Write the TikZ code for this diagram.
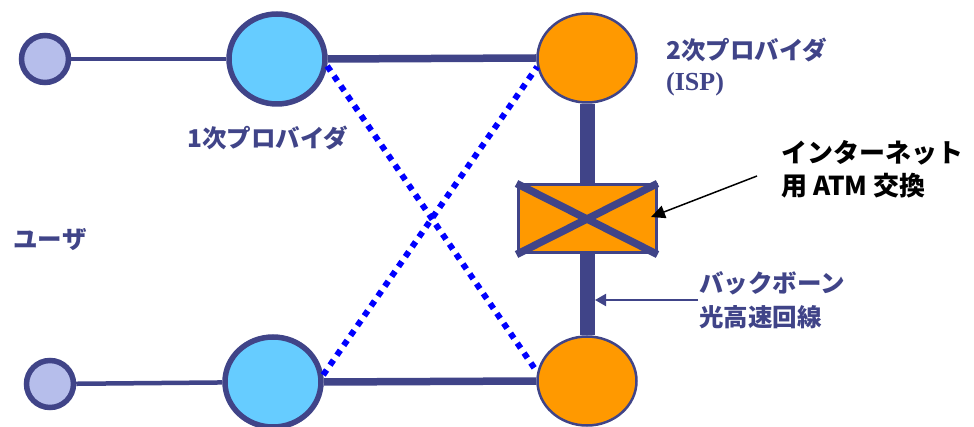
\documentclass[tikz,border=0pt]{standalone}
\usepackage{fontspec}
\newfontfamily\jp{Noto Sans CJK JP}
\newfontfamily\serifb{Liberation Serif}
\usetikzlibrary{arrows.meta,shapes.geometric}
\definecolor{ln}{HTML}{404488}
\definecolor{usr}{HTML}{B6BEEB}
\definecolor{prov}{HTML}{66CCFF}
\definecolor{isp}{HTML}{FF9900}
\definecolor{dotb}{HTML}{0000FF}
\tikzset{
  userc/.style={circle,draw=ln,line width=5.5pt,fill=usr,minimum size=47pt,inner sep=0pt},
  provc/.style={ellipse,draw=ln,line width=5.5pt,fill=prov,minimum width=96pt,minimum height=90pt,inner sep=0pt},
  ispc/.style={ellipse,draw=ln,line width=2.5pt,fill=isp,minimum width=99pt,minimum height=89pt,inner sep=0pt},
  lbl/.style={text=ln,font=\jp\bfseries\fontsize{24.5}{28}\selectfont,inner sep=0pt},
  blk/.style={text=black,font=\jp\bfseries\fontsize{26}{30}\selectfont,inner sep=0pt},
  acc/.style={draw=ln,line width=4.5pt},
  trunk/.style={draw=ln,line width=7.5pt},
  bbone/.style={draw=ln,line width=15pt},
  dotl/.style={draw=dotb,line width=6pt,dash pattern=on 6pt off 6pt},
}
\begin{document}
\begin{tikzpicture}[x=1pt,y=-1pt]
\useasboundingbox (0,0) rectangle (974,427);
% nodes
\node[userc] (u1) at (45,59) {};
\node[userc] (u2) at (50,384) {};
\node[provc] (p1) at (277,59) {};
\node[provc] (p2) at (273,382) {};
\node[ispc] (s1) at (587,58) {};
\node[ispc] (s2) at (587,381) {};
\node[draw=ln,line width=3pt,fill=isp,minimum width=138pt,minimum height=68pt,inner sep=0pt] (bx) at (587,219) {};
% connections
\draw[acc] (u1) -- (p1);
\draw[acc] (u2) -- (p2);
\draw[trunk] (p1.east) -- (s1.west);
\draw[trunk] (p2.east) -- (s2.west);
\draw[bbone] (s1.south) -- (bx.north);
\draw[bbone] (bx.south) -- (s2.north);
\draw[ln,line width=7.5pt] (bx.north west) -- (bx.south east);
\draw[ln,line width=7.5pt] (bx.south west) -- (bx.north east);
\draw[dotl] (p1.-8) -- (s2.170);
\draw[dotl] (p2.8) -- (s1.190);
% labels
\node[lbl] (l1) at (268,138) {1次プロバイダ};
\node[lbl] (lu) at (50,240) {ユーザ};
\node[lbl,anchor=west] (l2) at (666,50) {2次プロバイダ};
\node[text=ln,font=\serifb\bfseries\fontsize{26}{28}\selectfont,inner sep=0pt,anchor=west] (l3) at (666,84) {(ISP)};
\node[blk,anchor=west] (la) at (781,153) {インターネット};
\node[blk,anchor=west] (lb) at (781,186) {用 ATM 交換};
\node[lbl,anchor=west] (lc) at (699,283) {バックボーン};
\node[lbl,anchor=west] (ld) at (699,317) {光高速回線};
% arrows
\coordinate (a1s) at (757,176);
\coordinate (a1e) at (651,217);
\draw[black,line width=1.5pt,-{Triangle[length=14pt,width=13pt]}] (a1s) -- (a1e);
\coordinate (a2s) at (698,300);
\coordinate (a2e) at (595,300);
\draw[ln,line width=2pt,-{Triangle[length=11pt,width=12pt]}] (a2s) -- (a2e);
\end{tikzpicture}
\end{document}
